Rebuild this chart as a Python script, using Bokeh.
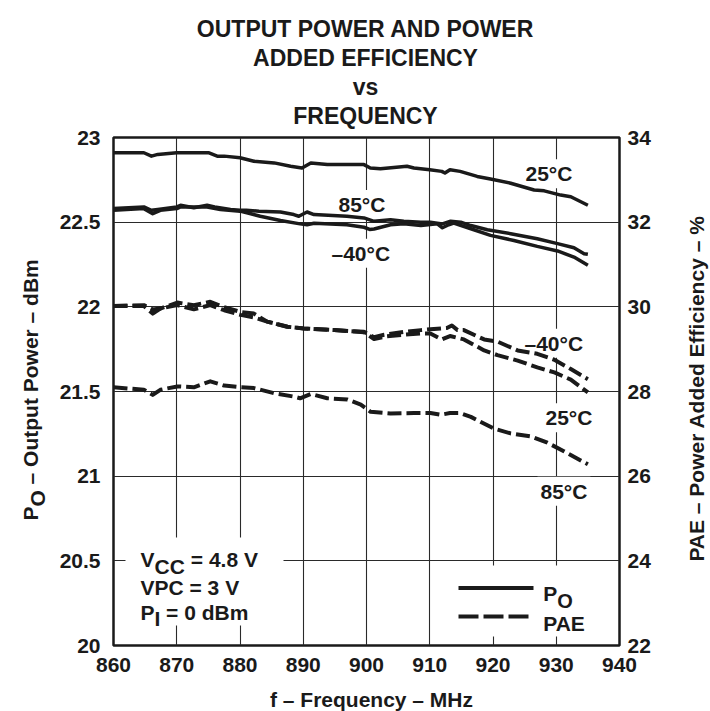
import math
from bokeh.plotting import figure
from bokeh.models import Range1d, LinearAxis, FixedTicker, Label, BoxAnnotation
from bokeh.embed import file_html
from bokeh.resources import INLINE

# ---------------- data ----------------
freq_ticks = [860, 870, 880, 890, 900, 910, 920, 930, 940]
freq_tick_labels = ["860", "870", "880", "890", "900", "910", "920", "930", "940"]
po_ticks = [20, 20.5, 21, 21.5, 22, 22.5, 23]
po_tick_labels = ["20", "20.5", "21", "21.5", "22", "22.5", "23"]
pae_ticks = [22, 24, 26, 28, 30, 32, 34]
pae_tick_labels = ["22", "24", "26", "28", "30", "32", "34"]

# Output power (dBm)
po_25c_freq = [860, 864.8, 866, 867, 870, 875, 876.4, 877.5, 880, 882.2, 885.4, 888, 889.8, 891.2,
               893.8, 899.6, 900.6, 902.2, 906.4, 907.5, 910, 911.9, 912.4, 913.2, 914.8, 917.5,
               919.6, 922.8, 926.5, 928.1, 930.7, 932.3, 935]
po_25c = [22.91, 22.91, 22.89, 22.90, 22.91, 22.91, 22.89, 22.89, 22.88, 22.86, 22.85, 22.83, 22.82,
          22.85, 22.84, 22.84, 22.82, 22.815, 22.83, 22.82, 22.81, 22.80, 22.79, 22.81, 22.80, 22.77,
          22.755, 22.73, 22.69, 22.685, 22.66, 22.65, 22.60]

po_85c_freq = [860, 864.8, 866, 867, 870, 870.6, 872.7, 874.8, 876, 878.5, 880, 881, 883, 886.4,
               888.5, 889.3, 890.6, 891.7, 896.9, 899.6, 901.2, 903.8, 905.9, 908.6, 910.1, 912,
               913.3, 914.9, 916.5, 919.1, 922.8, 927, 930.2, 932.8, 934.4, 935]
po_85c = [22.58, 22.59, 22.57, 22.575, 22.59, 22.60, 22.585, 22.60, 22.59, 22.575, 22.57, 22.57,
          22.565, 22.56, 22.545, 22.535, 22.56, 22.545, 22.535, 22.525, 22.505, 22.514, 22.506,
          22.50, 22.50, 22.49, 22.506, 22.50, 22.48, 22.455, 22.432, 22.402, 22.373, 22.349,
          22.314, 22.31]

po_m40c_freq = [860, 864.8, 866.2, 867.4, 870, 870.6, 874.8, 876.9, 880, 881.7, 883.2, 886.4, 889.5,
                890.6, 891.7, 896.9, 899.6, 900.5, 901.2, 903.8, 905.9, 908.6, 911.2, 912, 913,
                913.8, 916.5, 919.6, 923.3, 927, 930.2, 932.8, 935]
po_m40c = [22.57, 22.58, 22.55, 22.57, 22.58, 22.59, 22.59, 22.575, 22.565, 22.55, 22.535, 22.51,
           22.49, 22.485, 22.494, 22.485, 22.47, 22.457, 22.46, 22.485, 22.49, 22.48, 22.49, 22.467,
           22.485, 22.494, 22.461, 22.422, 22.392, 22.357, 22.33, 22.294, 22.245]

# Power added efficiency (%)
pae_m40c_freq = [860, 864.8, 866.2, 867.4, 870.1, 872.7, 875.3, 877.5, 880.1, 882.2, 884.3, 887.5,
                 890.1, 894.9, 899.6, 901.2, 902.8, 905.9, 908.6, 910.1, 912.7, 913.5, 914.4, 915.4,
                 918.6, 920.7, 923.9, 927, 929.7, 932.3, 935]
pae_m40c = [30.02, 30.04, 29.94, 29.96, 30.10, 30.04, 30.12, 29.99, 29.88, 29.84, 29.65, 29.53, 29.49,
            29.45, 29.41, 29.28, 29.34, 29.41, 29.45, 29.47, 29.50, 29.56, 29.45, 29.45, 29.23, 29.18,
            28.97, 28.89, 28.75, 28.53, 28.29]

pae_25c_freq = [860, 864.8, 866.2, 867.4, 870.1, 872.7, 875.3, 877.5, 880.1, 882.2, 884.3, 887.5,
                890.1, 894.9, 899.6, 901.2, 903, 905.9, 908.6, 910.1, 911.9, 913.2, 915.4, 918.6,
                920.7, 923.9, 927, 929.7, 932.3, 935]
pae_25c = [30.02, 30.02, 29.84, 29.96, 30.04, 29.94, 30.04, 29.92, 29.81, 29.75, 29.65, 29.53, 29.49,
           29.45, 29.40, 29.24, 29.30, 29.34, 29.37, 29.37, 29.23, 29.31, 29.23, 28.97, 28.86, 28.73,
           28.57, 28.45, 28.28, 27.98]

pae_85c_freq = [860, 864.8, 866.2, 867.4, 870.1, 872.7, 875.3, 877.5, 880.1, 882.2, 885.4, 888.5,
                889.5, 891.2, 893.8, 897, 899.1, 900.65, 903.8, 907.5, 910.1, 911.7, 913.2, 914.8,
                916.5, 920.2, 922.8, 926, 928.6, 931.2, 935]
pae_85c = [28.10, 28.04, 27.92, 28.04, 28.12, 28.10, 28.24, 28.14, 28.10, 28.08, 27.96, 27.88, 27.84,
           27.94, 27.84, 27.81, 27.69, 27.52, 27.48, 27.49, 27.49, 27.45, 27.49, 27.49, 27.40, 27.12,
           27.01, 26.94, 26.79, 26.59, 26.28]

title_lines = ["OUTPUT POWER AND POWER", "ADDED EFFICIENCY", "vs", "FREQUENCY"]

# ---------------- style / layout ----------------
FONT = "Liberation Sans"
INK = "#1a1a1a"
FS = "21px"
W, H = 710, 711

F0, F1 = 860, 940
P0, P1 = 20, 23
# frame position in canvas pixels
FL, FR, FT, FB = 113, 619, 137, 645


def fx(px):
    return F0 + (px - FL) * (F1 - F0) / (FR - FL)


def fy(py):
    return P1 - (py - FT) * (P1 - P0) / (FB - FT)


p = figure(width=W, height=H, x_range=Range1d(F0, F1), y_range=Range1d(P0, P1),
           output_backend="svg", toolbar_location=None, title=None,
           min_border_left=FL, min_border_right=W - FR, min_border_top=FT,
           min_border_bottom=H - FB)
p.extra_y_ranges = {"pae": Range1d(22, 34)}
p.background_fill_color = "white"
p.border_fill_color = "white"
p.outline_line_color = INK
p.outline_line_width = 2.5

right_axis = LinearAxis(y_range_name="pae")
p.add_layout(right_axis, "right")

p.xaxis.ticker = FixedTicker(ticks=freq_ticks)
p.xaxis.major_label_overrides = dict(zip(freq_ticks, freq_tick_labels))
p.yaxis[0].ticker = FixedTicker(ticks=po_ticks)
p.yaxis[0].major_label_overrides = dict(zip(po_ticks, po_tick_labels))
right_axis.ticker = FixedTicker(ticks=pae_ticks)
right_axis.major_label_overrides = dict(zip(pae_ticks, pae_tick_labels))

for ax in [p.xaxis[0], p.yaxis[0], right_axis]:
    ax.axis_line_color = None
    ax.major_tick_line_color = None
    ax.minor_tick_line_color = None
    ax.major_tick_in = 0
    ax.major_tick_out = 0
    ax.minor_tick_in = 0
    ax.minor_tick_out = 0
    ax.major_label_text_font = FONT
    ax.major_label_text_font_size = FS
    ax.major_label_text_font_style = "bold"
    ax.major_label_text_color = INK
p.xaxis.major_label_standoff = 12
p.yaxis[0].major_label_standoff = 13
right_axis.major_label_standoff = 8

p.xgrid.ticker = FixedTicker(ticks=freq_ticks)
p.ygrid.ticker = FixedTicker(ticks=po_ticks)
for g in [p.xgrid[0], p.ygrid[0]]:
    g.grid_line_color = "#2a2a2a"
    g.grid_line_width = 1.1

# white boxes behind the condition text and the legend (cover grid only)
p.add_layout(BoxAnnotation(left=fx(125), right=fx(283), top=fy(537), bottom=fy(625),
                           fill_color="white", fill_alpha=1, line_color=None, level="underlay"))
p.add_layout(BoxAnnotation(left=fx(445), right=fx(600), top=fy(565), bottom=fy(636),
                           fill_color="white", fill_alpha=1, line_color=None, level="underlay"))

# ---------------- curves ----------------
LW = 3.5
DLW = 4
DASH = "14 5"
p.line(po_25c_freq, po_25c, line_color=INK, line_width=LW, line_join="round")
p.line(po_85c_freq, po_85c, line_color=INK, line_width=LW, line_join="round")
p.line(po_m40c_freq, po_m40c, line_color=INK, line_width=LW, line_join="round")
p.line(pae_m40c_freq, pae_m40c, y_range_name="pae", line_color=INK, line_width=DLW,
       line_dash=DASH, line_join="round")
p.line(pae_25c_freq, pae_25c, y_range_name="pae", line_color=INK, line_width=DLW,
       line_dash=DASH, line_join="round")
p.line(pae_85c_freq, pae_85c, y_range_name="pae", line_color=INK, line_width=DLW,
       line_dash=DASH, line_join="round")

# legend keys
p.line([fx(458), fx(533)], [fy(587.5), fy(587.5)], line_color=INK, line_width=4)
p.line([fx(458), fx(528)], [fy(616), fy(616)], line_color=INK, line_width=4, line_dash="20 5")


def txt(px, py, s, size=FS, align="left", angle=0.0, level="underlay", place="center"):
    lab = Label(x=fx(px), y=fy(py), text=s, text_font=FONT, text_font_size=size,
                text_font_style="bold", text_color=INK, text_align=align,
                text_baseline="alphabetic", angle=angle, level=level)
    p.add_layout(lab, place)
    return lab


def bg_txt(px, py, s):
    lab = Label(x=fx(px), y=fy(py), text=s, text_font=FONT, text_font_size=FS,
                text_font_style="bold", text_color=INK, text_align="left",
                text_baseline="alphabetic", background_fill_color="white",
                background_fill_alpha=1.0, padding=3, level="underlay")
    p.add_layout(lab)


# temperature labels
bg_txt(522, 173.3, "25°C")
bg_txt(335, 204, "85°C")
bg_txt(328, 252.7, "–40°C")
bg_txt(521, 342.7, "–40°C")
bg_txt(542, 417.3, "25°C")
bg_txt(537, 490.7, "85°C")

SP = 5.8  # width of a space at 21px

# operating conditions
txt(140, 559.3, "V")
txt(154, 565.5, "CC")
txt(184.5 + SP, 559.3, "= 4.8 V")
txt(140, 586.7, "VPC = 3 V")
txt(140, 611.7, "P")
txt(154, 618, "I")
txt(159.8 + SP, 611.7, "= 0 dBm")

# legend texts
txt(542.7, 593.3, "P")
txt(556.7, 600, "O", size="20px")
txt(542.7, 623.3, "PAE")

# title (placed in the top panel so it is not clipped to the frame)
for i, line in enumerate(title_lines):
    txt(365, 28.3 + i * 28.9, line, size="23px", align="center", level="annotation", place="above")

# axis titles (side panels only keep them unclipped; positions are absolute)
txt(371, 699, "f – Frequency – MHz", align="center", level="annotation", place="below")
half = math.pi / 2
txt(30, 520, "P", angle=half, level="annotation", place="left")
txt(36.5, 506, "O", angle=half, level="annotation", place="right")
txt(30, 489.7 - SP, "– Output Power – dBm", angle=half, level="annotation", place="left")
txt(696, 388, "PAE – Power Added Efficiency – %", align="center", angle=half,
    level="annotation", place="right")

open("out.html", "w").write(file_html(p, INLINE))
